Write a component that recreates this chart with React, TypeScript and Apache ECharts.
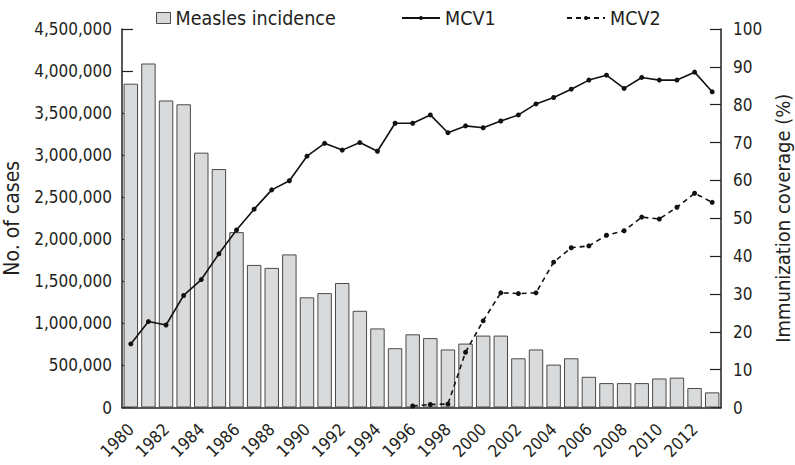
import React, { useEffect, useRef } from "react";
import * as echarts from "echarts";

const years = [
  "1980", "1981", "1982", "1983", "1984", "1985", "1986", "1987", "1988", "1989",
  "1990", "1991", "1992", "1993", "1994", "1995", "1996", "1997", "1998", "1999",
  "2000", "2001", "2002", "2003", "2004", "2005", "2006", "2007", "2008", "2009",
  "2010", "2011", "2012", "2013",
];

const measlesCases = [
  3850000, 4090000, 3650000, 3605000, 3030000, 2835000, 2085000, 1695000, 1660000, 1820000,
  1310000, 1360000, 1480000, 1150000, 940000, 705000, 870000, 825000, 690000, 760000,
  855000, 855000, 585000, 690000, 510000, 585000, 365000, 290000, 290000, 290000,
  345000, 355000, 232000, 180000,
];

const mcv1 = [
  16.8, 22.7, 21.8, 29.6, 33.8, 40.6, 46.9, 52.4, 57.5, 59.9,
  66.4, 69.8, 68.0, 70.0, 67.7, 75.1, 75.1, 77.3, 72.6, 74.4,
  73.9, 75.7, 77.3, 80.2, 81.9, 84.1, 86.5, 87.8, 84.3, 87.2,
  86.5, 86.5, 88.6, 83.4,
];

const mcv2 = [
  null, null, null, null, null, null, null, null, null, null,
  null, null, null, null, null, null, 0.4, 0.8, 0.9, 14.6,
  22.9, 30.3, 30.1, 30.3, 38.4, 42.2, 42.7, 45.5, 46.7, 50.3,
  49.8, 52.9, 56.6, 54.2,
];

const FONT = "'DejaVu Sans Condensed', 'Liberation Sans Narrow', sans-serif";
const INK = "#231f20";

export default function App() {
  const ref = useRef<HTMLDivElement>(null);

  useEffect(() => {
    if (!ref.current) return;
    const chart = echarts.init(ref.current, null, { renderer: "svg" });
    const legendText = { fontFamily: FONT, fontSize: 19.5, color: INK, lineHeight: 24 };
    chart.setOption({
      animation: false,
      backgroundColor: "#ffffff",
      textStyle: { fontFamily: FONT, color: INK },
      grid: {
        left: 122,
        right: 74,
        top: 29,
        bottom: 57.5,
        containLabel: false,
        outerBoundsMode: "none",
      },
      legend: [
        {
          data: [{ name: "Measles incidence", icon: "rect" }],
          left: 151,
          top: 1,
          itemWidth: 14,
          itemHeight: 11,
          itemGap: 10,
          itemStyle: { color: "#d9dadb", borderColor: "#4a4a4a", borderWidth: 1 },
          textStyle: legendText,
        },
        {
          data: ["MCV1"],
          left: 396,
          top: 1,
          itemWidth: 38,
          itemHeight: 5,
          textStyle: legendText,
        },
        {
          data: ["MCV2"],
          left: 561,
          top: 1,
          itemWidth: 38,
          itemHeight: 5,
          textStyle: legendText,
        },
      ],
      xAxis: {
        type: "category",
        data: years,
        boundaryGap: true,
        axisLine: { show: true, lineStyle: { color: INK, width: 1.5 } },
        axisTick: { show: false },
        axisLabel: {
          interval: 1,
          rotate: 45,
          margin: 19,
          fontFamily: FONT,
          fontSize: 17,
          color: INK,
        },
        splitLine: { show: false },
      },
      yAxis: [
        {
          type: "value",
          min: 0,
          max: 4500000,
          interval: 500000,
          name: "No. of cases",
          nameLocation: "middle",
          nameRotate: 90,
          nameGap: 100,
          nameTextStyle: { fontFamily: FONT, fontSize: 21, color: INK },
          axisLine: { show: true, lineStyle: { color: INK, width: 1.5 } },
          axisTick: { show: true, inside: true, length: 11, lineStyle: { color: INK, width: 1.2 } },
          axisLabel: {
            margin: 10,
            fontFamily: FONT,
            fontSize: 17,
            color: INK,
            formatter: (v: number) => v.toLocaleString("en-US"),
          },
          splitLine: { show: false },
        },
        {
          type: "value",
          min: 0,
          max: 100,
          interval: 10,
          position: "right",
          name: "Immunization coverage (%)",
          nameLocation: "middle",
          nameRotate: 90,
          nameGap: 48,
          nameTextStyle: { fontFamily: FONT, fontSize: 20, color: INK },
          axisLine: { show: true, lineStyle: { color: INK, width: 1.5 } },
          axisTick: { show: true, inside: true, length: 11, lineStyle: { color: INK, width: 1.2 } },
          axisLabel: { margin: 12, fontFamily: FONT, fontSize: 17, color: INK },
          splitLine: { show: false },
        },
      ],
      series: [
        {
          name: "Measles incidence",
          type: "bar",
          data: measlesCases,
          yAxisIndex: 0,
          barCategoryGap: "18%",
          itemStyle: { color: "#d9dadb", borderColor: "#4a4a4a", borderWidth: 1 },
          z: 1,
        },
        {
          name: "MCV1",
          type: "line",
          data: mcv1,
          yAxisIndex: 1,
          symbol: "circle",
          symbolSize: 5,
          showSymbol: true,
          itemStyle: { color: "#111111" },
          lineStyle: { color: "#111111", width: 1.6, type: "solid" },
          z: 3,
        },
        {
          name: "MCV2",
          type: "line",
          data: mcv2,
          yAxisIndex: 1,
          symbol: "circle",
          symbolSize: 5,
          showSymbol: true,
          connectNulls: false,
          itemStyle: { color: "#111111" },
          lineStyle: { color: "#111111", width: 1.6, type: [5, 4] },
          z: 3,
        },
      ],
    });
    return () => chart.dispose();
  }, []);

  return (
    <div
      ref={ref}
      style={{ position: "absolute", left: 0, top: 0, width: 795, height: 465 }}
    />
  );
}
